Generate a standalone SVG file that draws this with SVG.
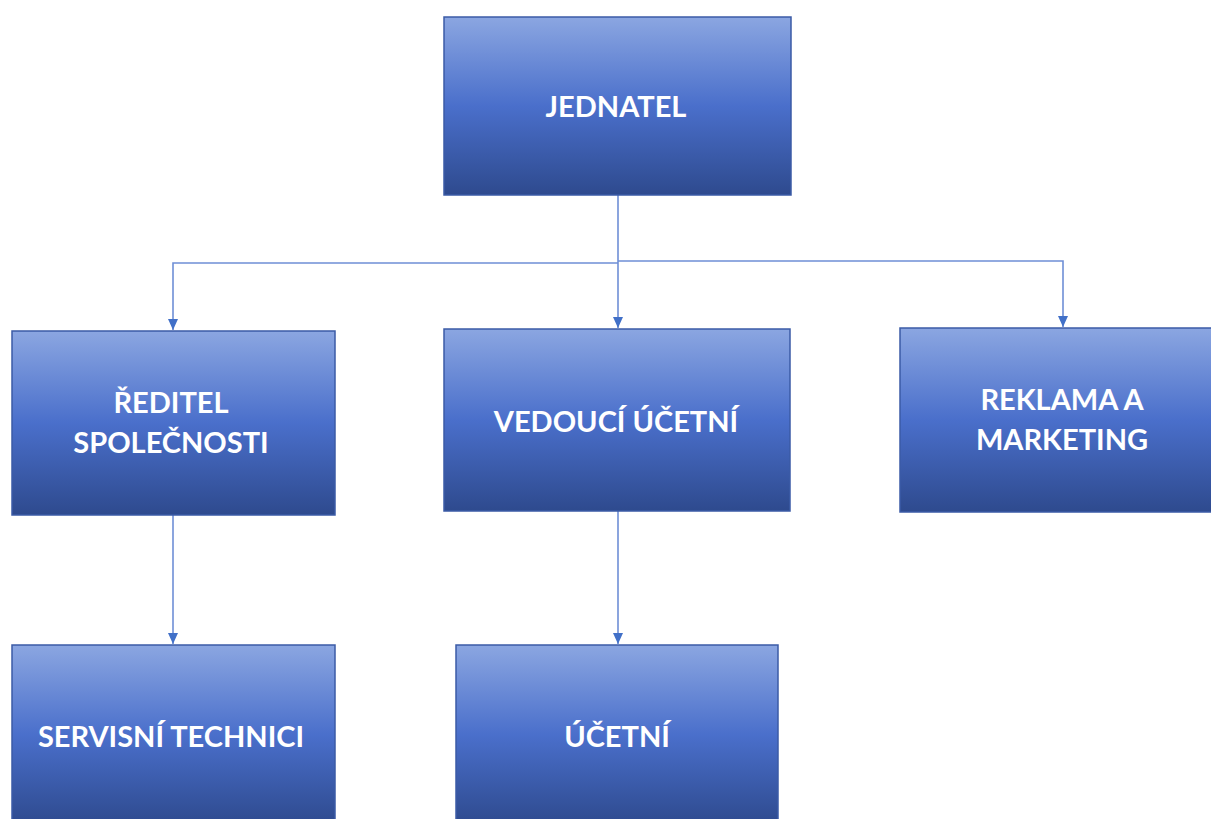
<svg xmlns="http://www.w3.org/2000/svg" width="1211" height="819" viewBox="0 0 1211 819">
<style>
.box{fill:url(#g);stroke:#3b5ba6;stroke-width:1.5}
.lbl{fill:#fff;font-family:Lato,"Open Sans","Liberation Sans",sans-serif;font-weight:bold;font-size:29px;text-anchor:middle}
.con{fill:none;stroke:#6f8fd6;stroke-width:1.6}
</style>
<defs>
<linearGradient id="g" x1="0" y1="0" x2="0" y2="1">
<stop offset="0" stop-color="#8ba6e1"/>
<stop offset="0.5" stop-color="#4a6fcb"/>
<stop offset="1" stop-color="#2e4a8e"/>
</linearGradient>
<marker id="ah" markerWidth="10" markerHeight="10" refX="5" refY="9" orient="auto" markerUnits="userSpaceOnUse" viewBox="0 0 10 10">
<path d="M0,0 L10,0 L5,9 Z" fill="#4170c8" transform="rotate(-90 5 5)"/>
</marker>
<marker id="a" markerWidth="12" markerHeight="12" refX="11" refY="6" orient="auto" markerUnits="userSpaceOnUse">
<path d="M0,1 L11,6 L0,11 Z" fill="#4170c8"/>
</marker>
</defs>
<g id="connectors">
<path class="con" d="M618,195 V328" marker-end="url(#a)"/>
<path class="con" d="M618,263 H173 V330" marker-end="url(#a)"/>
<path class="con" d="M618,261 H1063 V327" marker-end="url(#a)"/>
<path class="con" d="M173,515 V644" marker-end="url(#a)"/>
<path class="con" d="M618,511 V644" marker-end="url(#a)"/>
</g>
<g id="jednatel">
<rect class="box" x="444" y="17" width="347" height="178"/>
<text class="lbl" x="616" y="117">JEDNATEL</text>
</g>
<g id="reditel">
<rect class="box" x="12" y="331" width="323" height="184"/>
<text class="lbl" x="171" y="413">ŘEDITEL</text>
<text class="lbl" x="171" y="453">SPOLEČNOSTI</text>
</g>
<g id="vedouci">
<rect class="box" x="444" y="329" width="346" height="182"/>
<text class="lbl" x="616" y="432">VEDOUCÍ ÚČETNÍ</text>
</g>
<g id="reklama">
<rect class="box" x="900" y="328" width="320" height="184"/>
<text class="lbl" x="1062" y="410">REKLAMA A</text>
<text class="lbl" x="1062" y="450">MARKETING</text>
</g>
<g id="servisni">
<rect class="box" x="12" y="645" width="323" height="180"/>
<text class="lbl" x="171" y="747">SERVISNÍ TECHNICI</text>
</g>
<g id="ucetni">
<rect class="box" x="456" y="645" width="322" height="180"/>
<text class="lbl" x="617" y="747">ÚČETNÍ</text>
</g>
</svg>
